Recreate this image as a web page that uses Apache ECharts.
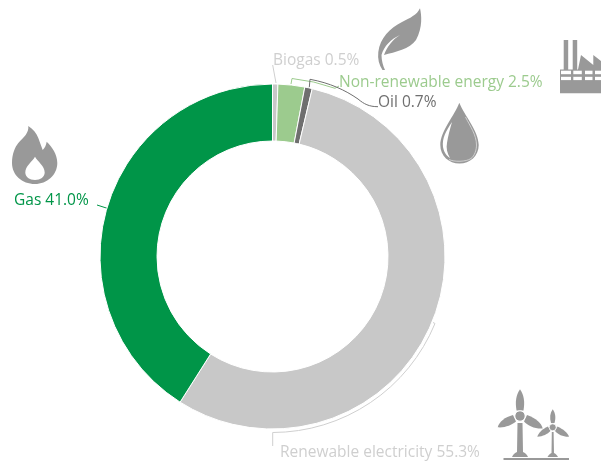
<!DOCTYPE html>
<html><head><meta charset="utf-8">
<style>html,body{margin:0;padding:0;background:#fff}#c{width:601px;height:464px}</style>
<script src="https://cdn.jsdelivr.net/npm/echarts@6/dist/echarts.min.js"></script>
</head><body><div id="c"></div>
<script>
const categories=['Biogas','Non-renewable energy','Oil','Renewable electricity','Gas'];
const shares=[0.5,2.5,0.7,55.3,41.0];
const sliceColors=['#c8c8c8','#9ccb8e','#6f6f6f','#c8c8c8','#009548'];
const labelColors=['#cfcfcf','#9ccb8e','#6f6f6f','#cfcfcf','#009548'];
const labelAnchors=[[273,61],[339,82.5],[378,103],[280,452.5],[14,200.5]];
const icon='#999999';
let shapeId=0;
const pathType=d=>{const n='annot'+(shapeId++);echarts.graphic.registerShape(n,echarts.graphic.extendPath(d,{}));return n;};
const line=(d,stroke,w)=>({type:pathType(d),style:{fill:null,stroke,lineWidth:w||1},silent:true});
const fill=(d,c)=>({type:pathType(d),style:{fill:c||icon,stroke:null},silent:true});
const rect=(x,y,w,h,c)=>({type:'rect',shape:{x,y,width:w,height:h},style:{fill:c||icon},silent:true});
const chart=echarts.init(document.getElementById('c'),null,{renderer:'canvas'});
chart.setOption({
  animation:false,
  series:[{
    type:'pie',center:[272.5,256.5],radius:[115.5,172.5],startAngle:90,clockwise:true,
    avoidLabelOverlap:false,minShowLabelAngle:0,
    itemStyle:{borderColor:'#fff',borderWidth:1},
    data:categories.map((n,i)=>({name:n,value:shares[i],
      itemStyle:{color:sliceColors[i]},
      label:{color:labelColors[i]}})),
    label:{show:true,position:'outside',fontFamily:'"Open Sans"',fontSize:15.5,
      formatter:p=>p.name+' '+p.value.toFixed(1)+'%'},
    labelLine:{show:false},
    labelLayout:p=>({x:labelAnchors[p.dataIndex][0],y:labelAnchors[p.dataIndex][1],align:'left',verticalAlign:'middle',hideOverlap:false}),
    emphasis:{disabled:true}
  }],
  graphic:[
    // leader lines
    line('M272.7 65L276 83','#cfcfcf'),
    line('M291 84L292 78.5A180 180 0 0 1 335 88.3L339 86','#9ccb8e'),
    line('M309.3 87.3L310 79.3C330 83 345 90 358 99C364 104 369 106.7 378 106.7','#6f6f6f'),
    line('M97 205L107.3 208.3','#009548'),
    line('M272.7 446L272.7 432.5A176 176 0 0 0 435 323.5L433 322.5','#cfcfcf'),
    // leaf
    fill('M420 8.3C421.5 15 423 27 416 40C410 49 395 52 384 55C387 47 392 40 400 35C391 39 384 46 381.5 55C381.5 60 383 66 385 70L382.5 70C379 65 377.5 59 378.3 52C380 38 390 28 402 22C410 18 417 15 420 8.3Z'),
    // factory
    rect(563.7,40,4.5,30),rect(572.7,40,4.5,30),
    fill('M578 69.5L581 55L593.3 65L593.3 55L601 61L601 93.3L560 93.3L560 69.5Z'),
    rect(561,70.7,10,3.5,'#fff'),rect(573.3,70.7,8.5,3.5,'#fff'),rect(585,70.7,7.5,3.5,'#fff'),rect(595,70.7,6,3.5,'#fff'),
    rect(561,76.8,10,3.3,'#fff'),rect(573.3,76.8,8.5,3.3,'#fff'),rect(585,76.8,7.5,3.3,'#fff'),rect(595,76.8,6,3.3,'#fff'),
    // drop
    fill('M459.3 102.7C455 115 440.3 131 440.3 145C440.3 156 449 163.5 459.5 163.5C470 163.5 478.7 156 478.7 145C478.7 131 464 115 459.3 102.7Z'),
    fill('M452 122C446 131 442 138 443 147C444 153 447 156 450 158C447 153 446 148 447 143C448 136 450 129 452 122Z','#fff'),
    line('M449 159.5C454 162 466 162 471 158.5C474.5 156 476.5 150 476.5 145C476.5 135 470 126 465.5 117','#dddddd',0.8),
    // flame
    fill('M28.3 126C33 129 36.5 133 38.3 138C40 142 41 146 42.7 150C45 148 46 145 46.7 141.7C52 147 57.3 154 57.3 163C57.3 175 47 184 35 184C22 184 12 175 12 163C12 154 15 147 18.3 143C24 137 29 133 28.3 126Z'),
    fill('M35 156.7C32 162 25.3 166 25.3 172.5C25.3 177 29.5 180 35 180C40.5 180 44.7 177 44.7 172.5C44.7 166 38 162 35 156.7Z','#fff'),
    // big turbine
    fill('M520 389.3C516 395 515 402 516.5 410.5L523.5 410.5C525 402 524 395 520 389.3Z'),
    fill('M513 415C505 417 499 422 497.7 427.3C505 428 511.5 425 516 421.5Z'),
    fill('M527 415C536 418.5 541.5 423 542.7 428.5C535 429 528 426 524 421.5Z'),
    {type:'circle',shape:{cx:520,cy:416,r:5.2},style:{fill:icon,stroke:'#fff',lineWidth:1},silent:true},
    fill('M517.5 423L522.5 423L523 452C526 453 527 455 528 457L512 457C513 455 514 453 517 452Z'),
    // small turbine
    fill('M552.7 409.3C550 413 549.5 418 551 423L554.5 423C556 418 555.5 413 552.7 409.3Z'),
    fill('M548 426.5C542 429 538.5 433 537.3 436.7C543 436.5 547.5 434 550.5 431Z'),
    fill('M557.5 426.5C563 429 568 433 569 436.8C563 437 558 434.5 555 431Z'),
    {type:'circle',shape:{cx:552.7,cy:427.3,r:3.5},style:{fill:icon,stroke:'#fff',lineWidth:0.8},silent:true},
    fill('M551.8 432L553.6 432L554 453C556 454 557 455 558 457L547.5 457C548.5 455 549.5 454 551.5 453Z'),
    rect(503.5,458,65.5,2)
  ]
});
</script></body></html>
